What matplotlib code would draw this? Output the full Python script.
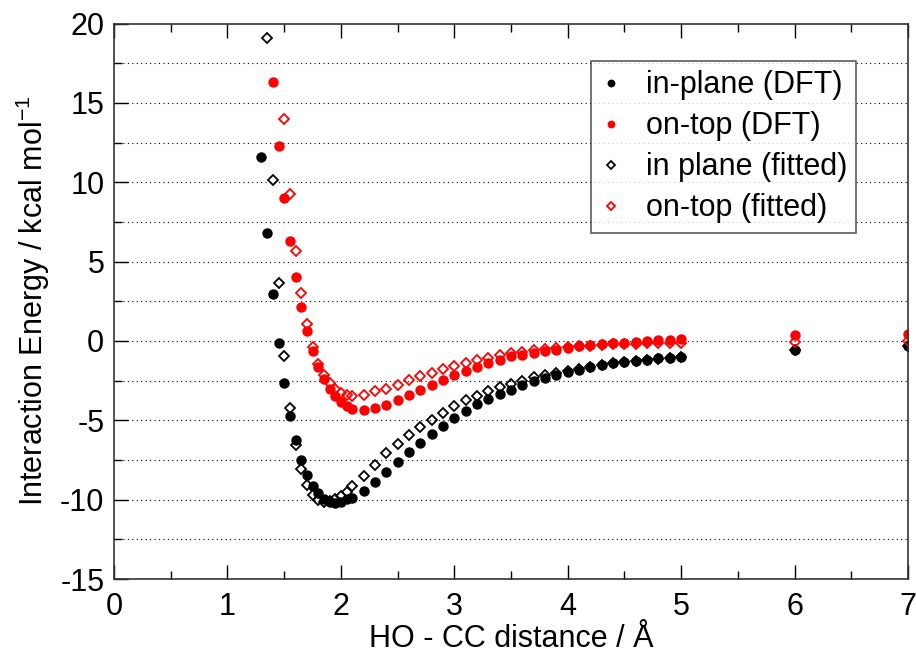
import numpy as np
import matplotlib
matplotlib.use('Agg')
import matplotlib.pyplot as plt
from matplotlib.ticker import MultipleLocator

plt.rcParams['font.family'] = ['Liberation Sans', 'DejaVu Sans']
plt.rcParams['mathtext.fontset'] = 'custom'
plt.rcParams['mathtext.rm'] = 'Liberation Sans'
plt.rcParams['axes.unicode_minus'] = False

# in-plane (DFT)
x_ip = [1.3, 1.35, 1.4, 1.45, 1.5, 1.55, 1.6, 1.65, 1.7, 1.75, 1.8, 1.85, 1.9, 1.95, 2.0, 2.05, 2.1,
        2.2, 2.3, 2.4, 2.5, 2.6, 2.7, 2.8, 2.9, 3.0, 3.1, 3.2, 3.3, 3.4, 3.5, 3.6, 3.7, 3.8, 3.9,
        4.0, 4.1, 4.2, 4.3, 4.4, 4.5, 4.6, 4.7, 4.8, 4.9, 5.0, 6.0, 7.0]
e_ip = [11.57, 6.79, 2.94, -0.14, -2.68, -4.71, -6.24, -7.5, -8.44, -9.11, -9.58, -9.97, -10.14, -10.2,
        -10.14, -9.98, -9.88, -9.47, -8.9, -8.27, -7.64, -7.01, -6.43, -5.86, -5.34, -4.84, -4.4, -4.0,
        -3.66, -3.34, -3.06, -2.8, -2.55, -2.32, -2.12, -1.94, -1.8, -1.65, -1.53, -1.42, -1.32, -1.24,
        -1.17, -1.1, -1.05, -1.0, -0.57, -0.31]

# on-top (DFT)
x_ot = [1.4, 1.45, 1.5, 1.55, 1.6, 1.65, 1.7, 1.75, 1.8, 1.85, 1.9, 1.95, 2.0, 2.05, 2.1,
        2.2, 2.3, 2.4, 2.5, 2.6, 2.7, 2.8, 2.9, 3.0, 3.1, 3.2, 3.3, 3.4, 3.5, 3.6, 3.7, 3.8, 3.9,
        4.0, 4.1, 4.2, 4.3, 4.4, 4.5, 4.6, 4.7, 4.8, 4.9, 5.0, 6.0, 7.0]
e_ot = [16.3, 12.3, 8.99, 6.27, 4.02, 2.16, 0.6, -0.63, -1.63, -2.41, -3.04, -3.5, -3.87, -4.12, -4.29,
        -4.36, -4.25, -4.04, -3.75, -3.4, -3.09, -2.77, -2.45, -2.16, -1.92, -1.67, -1.4, -1.18, -0.98,
        -0.86, -0.75, -0.66, -0.55, -0.43, -0.35, -0.27, -0.21, -0.15, -0.1, -0.05, -0.02, 0.03, 0.08,
        0.13, 0.38, 0.46]

# in plane (fitted)
x_ipf = [1.35, 1.4, 1.45, 1.5, 1.55, 1.6, 1.65, 1.7, 1.75, 1.8, 1.85, 1.9, 1.95, 2.0, 2.05, 2.1,
         2.2, 2.3, 2.4, 2.5, 2.6, 2.7, 2.8, 2.9, 3.0, 3.1, 3.2, 3.3, 3.4, 3.5, 3.6, 3.7, 3.8, 3.9,
         4.0, 4.1, 4.2, 4.3, 4.4, 4.5, 4.6, 4.7, 4.8, 4.9, 5.0, 6.0, 7.0]
e_ipf = [19.07, 10.12, 3.67, -0.94, -4.21, -6.53, -8.06, -9.05, -9.68, -10.05, -10.15, -10.1, -9.98,
         -9.76, -9.5, -9.16, -8.5, -7.8, -7.08, -6.49, -5.95, -5.44, -4.98, -4.54, -4.12, -3.7, -3.44,
         -3.18, -2.93, -2.72, -2.51, -2.3, -2.15, -2.0, -1.87, -1.75, -1.63, -1.52, -1.42, -1.33, -1.25,
         -1.18, -1.11, -1.05, -1.0, -0.57, -0.31]

# on-top (fitted)
x_otf = [1.5, 1.55, 1.6, 1.65, 1.7, 1.75, 1.8, 1.85, 1.9, 1.95, 2.0, 2.05, 2.1,
         2.2, 2.3, 2.4, 2.5, 2.6, 2.7, 2.8, 2.9, 3.0, 3.1, 3.2, 3.3, 3.4, 3.5, 3.6, 3.7, 3.8, 3.9,
         4.0, 4.1, 4.2, 4.3, 4.4, 4.5, 4.6, 4.7, 4.8, 4.9, 5.0, 6.0, 7.0]
e_otf = [14.0, 9.24, 5.68, 3.0, 1.05, -0.4, -1.46, -2.16, -2.68, -3.04, -3.29, -3.41, -3.5,
         -3.41, -3.18, -3.0, -2.75, -2.47, -2.22, -1.99, -1.75, -1.57, -1.4, -1.2, -1.05, -0.9, -0.77,
         -0.68, -0.6, -0.52, -0.45, -0.4, -0.35, -0.3, -0.26, -0.22, -0.19, -0.17, -0.15, -0.13, -0.11,
         -0.1, -0.04, -0.01]

fig = plt.figure(figsize=(9.16, 6.53), dpi=100)
ax = fig.add_axes([0.1245, 0.1133, 0.8668, 0.8507])

# rejilla punteada cada 2.5
for yg in np.arange(-12.5, 20, 2.5):
    ax.axhline(yg, color='black', lw=0.8, ls=(0, (1, 3)), zorder=0)

ax.plot(x_ip, e_ip, 'o', color='black', markersize=7.5, mew=0, label='in-plane (DFT)')
ax.plot(x_ot, e_ot, 'o', color='red', markersize=7.5, mew=0, label='on-top (DFT)')
ax.plot(x_ipf, e_ipf, 'D', mfc='none', mec='black', markersize=5, mew=1.3, label='in plane (fitted)')
ax.plot(x_otf, e_otf, 'D', mfc='none', mec='red', markersize=5, mew=1.3, label='on-top (fitted)')

ax.set_xlim(0, 7)
ax.set_ylim(-15, 20)
ax.xaxis.set_major_locator(MultipleLocator(1))
ax.xaxis.set_minor_locator(MultipleLocator(0.5))
ax.yaxis.set_major_locator(MultipleLocator(5))
ax.yaxis.set_minor_locator(MultipleLocator(2.5))
ax.tick_params(which='both', direction='in', top=True, right=False, labelsize=22)
ax.tick_params(axis='x', pad=9)
ax.tick_params(axis='y', pad=7)
ax.tick_params(which='major', length=10, width=1)
ax.tick_params(which='minor', length=6, width=1)
for s in ax.spines.values():
    s.set_linewidth(1.2)
    s.set_color('#333333')

ax.set_xlabel('HO - CC distance / Å', fontsize=22, labelpad=2)
ax.set_ylabel('Interaction Energy / kcal mol$^{\\mathregular{-1}}$', fontsize=22, labelpad=6)

leg = ax.legend(loc='upper right', bbox_to_anchor=(0.935, 0.932), fontsize=22, frameon=True,
                fancybox=False, edgecolor='#333333', markerscale=0.75, handlelength=0.7,
                handletextpad=0.8, borderpad=0.3, labelspacing=0.36, borderaxespad=0)
leg.get_frame().set_linewidth(1.2)

fig.savefig('out.png', dpi=100)
